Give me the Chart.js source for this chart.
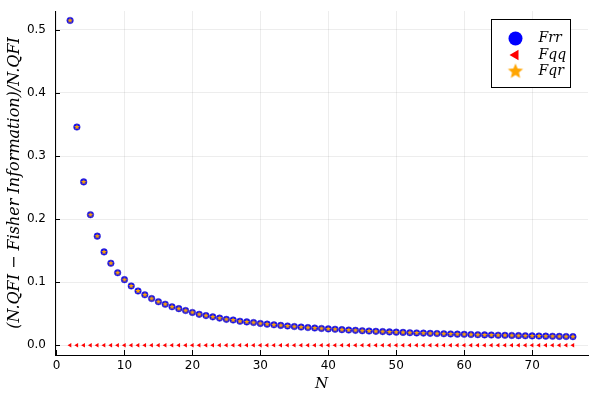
<!DOCTYPE html>
<html>
<head>
<meta charset="utf-8">
<script src="https://cdn.jsdelivr.net/npm/chart.js@4"></script>
<style>
  html, body { margin: 0; padding: 0; background: #fff; }
  #wrap { width: 600px; height: 400px; }
</style>
</head>
<body>
<div id="wrap"><canvas id="fisherChart"></canvas></div>
<script>
// N values 2..76
const nValues = [2,3,4,5,6,7,8,9,10,11,12,13,14,15,16,17,18,19,20,21,22,23,24,25,26,27,28,29,30,
  31,32,33,34,35,36,37,38,39,40,41,42,43,44,45,46,47,48,49,50,51,52,53,54,55,56,57,58,59,60,
  61,62,63,64,65,66,67,68,69,70,71,72,73,74,75,76];
const frrValues = [0.515,0.346,0.259,0.207,0.173,0.148,0.130,0.115,0.104,0.094,0.086,0.080,0.074,0.069,
  0.065,0.061,0.058,0.055,0.052,0.049,0.047,0.045,0.043,0.041,0.040,0.038,0.037,0.036,0.0345,
  0.0334,0.0324,0.0314,0.0305,0.0296,0.0288,0.0280,0.0273,0.0266,0.0259,0.0253,0.0247,0.0241,
  0.0236,0.0230,0.0225,0.0220,0.0216,0.0211,0.0207,0.0203,0.0199,0.0195,0.0192,0.0188,0.0185,
  0.0182,0.0179,0.0176,0.0173,0.0170,0.0167,0.0164,0.0162,0.0159,0.0157,0.0155,0.0152,0.0150,
  0.0148,0.0146,0.0144,0.0142,0.0140,0.0138,0.0136];
const fqqValues = [0,0,0,0,0,0,0,0,0,0,0,0,0,0,0,0,0,0,0,0,0,0,0,0,0,0,0,0,0,
  0,0,0,0,0,0,0,0,0,0,0,0,0,0,0,0,0,0,0,0,0,0,0,0,0,0,0,0,0,0,
  0,0,0,0,0,0,0,0,0,0,0,0,0,0,0,0];
const fqrValues = frrValues.slice();
const xTicks = [0,10,20,30,40,50,60,70];
const yTicks = [0.0,0.1,0.2,0.3,0.4,0.5];
const seriesNames = ["Frr","Fqq","Fqr"];

function toPoints(xs, ys) {
  return xs.map((x, i) => ({x: x, y: ys[i]}));
}

function starCanvas(r, color) {
  const c = document.createElement("canvas");
  const s = Math.ceil(r * 2 + 2);
  c.width = s; c.height = s;
  const ctx = c.getContext("2d");
  ctx.fillStyle = color;
  ctx.beginPath();
  for (let i = 0; i < 10; i++) {
    const rad = i % 2 === 0 ? r : r * 0.45;
    const a = -Math.PI / 2 + i * Math.PI / 5;
    const px = s / 2 + rad * Math.cos(a), py = s / 2 + rad * Math.sin(a);
    if (i === 0) ctx.moveTo(px, py); else ctx.lineTo(px, py);
  }
  ctx.closePath();
  ctx.fill();
  return c;
}
const smallStar = starCanvas(3, "#ffa500");
const bigStar = starCanvas(8, "#ffa500");

const legendItems = [
  {text: seriesNames[0], pointStyle: "circle", radius: 7, rotation: 0, fill: "#0000ff"},
  {text: seriesNames[1], pointStyle: "triangle", radius: 6, rotation: -90, fill: "#ff0000"},
  {text: seriesNames[2], pointStyle: bigStar, radius: 8, rotation: 0, fill: "#ffa500"}
];

// legend box inside plot + inward tick marks
const extras = {
  id: "extras",
  afterDatasetsDraw(chart) {
    const ctx = chart.ctx;
    const xs = chart.scales.x, ys = chart.scales.y;
    ctx.save();
    ctx.strokeStyle = "#000";
    ctx.lineWidth = 1;
    ctx.beginPath();
    xTicks.forEach(v => {
      const px = Math.round(xs.getPixelForValue(v)) + 0.5;
      ctx.moveTo(px, ys.bottom); ctx.lineTo(px, ys.bottom - 5);
    });
    yTicks.forEach(v => {
      const py = Math.round(ys.getPixelForValue(v)) + 0.5;
      ctx.moveTo(xs.left, py); ctx.lineTo(xs.left + 5, py);
    });
    ctx.stroke();

    const bx = 491.5, by = 19.5, bw = 79, bh = 68;
    ctx.fillStyle = "#fff";
    ctx.fillRect(bx, by, bw, bh);
    ctx.strokeRect(bx, by, bw, bh);
    legendItems.forEach((it, i) => {
      const cy = by + 19 + i * 16.5;
      ctx.fillStyle = it.fill;
      ctx.strokeStyle = it.fill;
      Chart.helpers.drawPoint(ctx, {pointStyle: it.pointStyle, radius: it.radius, rotation: it.rotation, borderWidth: 0}, bx + 24, cy);
      ctx.fillStyle = "#000";
      ctx.font = "italic 14px 'DejaVu Serif', serif";
      ctx.textBaseline = "middle";
      ctx.textAlign = "left";
      ctx.fillText(it.text, bx + 47, cy);
    });
    ctx.restore();
  }
};

const config = {
  type: "scatter",
  data: {
    datasets: [
      {
        label: seriesNames[0],
        data: toPoints(nValues, frrValues),
        pointStyle: "circle",
        pointRadius: 3.3,
        backgroundColor: "#0000ff",
        borderColor: "#3a2fd0",
        borderWidth: 0.5,
        order: 3
      },
      {
        label: seriesNames[1],
        data: toPoints(nValues, fqqValues),
        pointStyle: "triangle",
        pointRotation: -90,
        pointRadius: 2.5,
        backgroundColor: "#ff0000",
        borderColor: "#ff0000",
        borderWidth: 0,
        order: 2
      },
      {
        label: seriesNames[2],
        data: toPoints(nValues, fqrValues),
        pointStyle: smallStar,
        pointRadius: 3,
        backgroundColor: "#ffa500",
        borderColor: "#ffa500",
        order: 1
      }
    ]
  },
  options: {
    responsive: true,
    maintainAspectRatio: false,
    animation: false,
    layout: { padding: { left: 0, top: 11, right: 12, bottom: 0 } },
    plugins: {
      legend: { display: false },
      tooltip: { enabled: false }
    },
    scales: {
      x: {
        type: "linear",
        min: -0.22,
        max: 78.22,
        afterBuildTicks(scale) { scale.ticks = xTicks.map(v => ({value: v})); },
        afterFit(scale) { scale.height = 45; scale.paddingLeft = 0; scale.paddingRight = 0; },
        ticks: {
          color: "#000",
          font: { family: "'DejaVu Sans', sans-serif", size: 12 },
          padding: 4,
          maxRotation: 0
        },
        grid: { color: "rgba(0,0,0,0.07)", drawTicks: false },
        border: { color: "#000", width: 1 },
        title: {
          display: true,
          text: "N",
          color: "#000",
          font: { family: "'DejaVu Serif', serif", style: "italic", size: 15 },
          padding: { top: 0, bottom: 7 }
        }
      },
      y: {
        type: "linear",
        min: -0.0155,
        max: 0.53,
        afterBuildTicks(scale) { scale.ticks = yTicks.map(v => ({value: v})); },
        afterFit(scale) { scale.width = 55; scale.paddingTop = 0; scale.paddingBottom = 0; },
        ticks: {
          color: "#000",
          font: { family: "'DejaVu Sans', sans-serif", size: 12 },
          padding: 9,
          callback: v => v.toFixed(1)
        },
        grid: { color: "rgba(0,0,0,0.07)", drawTicks: false },
        border: { color: "#000", width: 1 },
        title: {
          display: true,
          text: "(N.QFI \u2212 Fisher Information)/N.QFI",
          color: "#000",
          font: { family: "'DejaVu Serif', serif", style: "italic", size: 16 },
          padding: { top: 5, bottom: 0 }
        }
      }
    }
  },
  plugins: [extras]
};

new Chart(document.getElementById("fisherChart"), config);
</script>
</body>
</html>
